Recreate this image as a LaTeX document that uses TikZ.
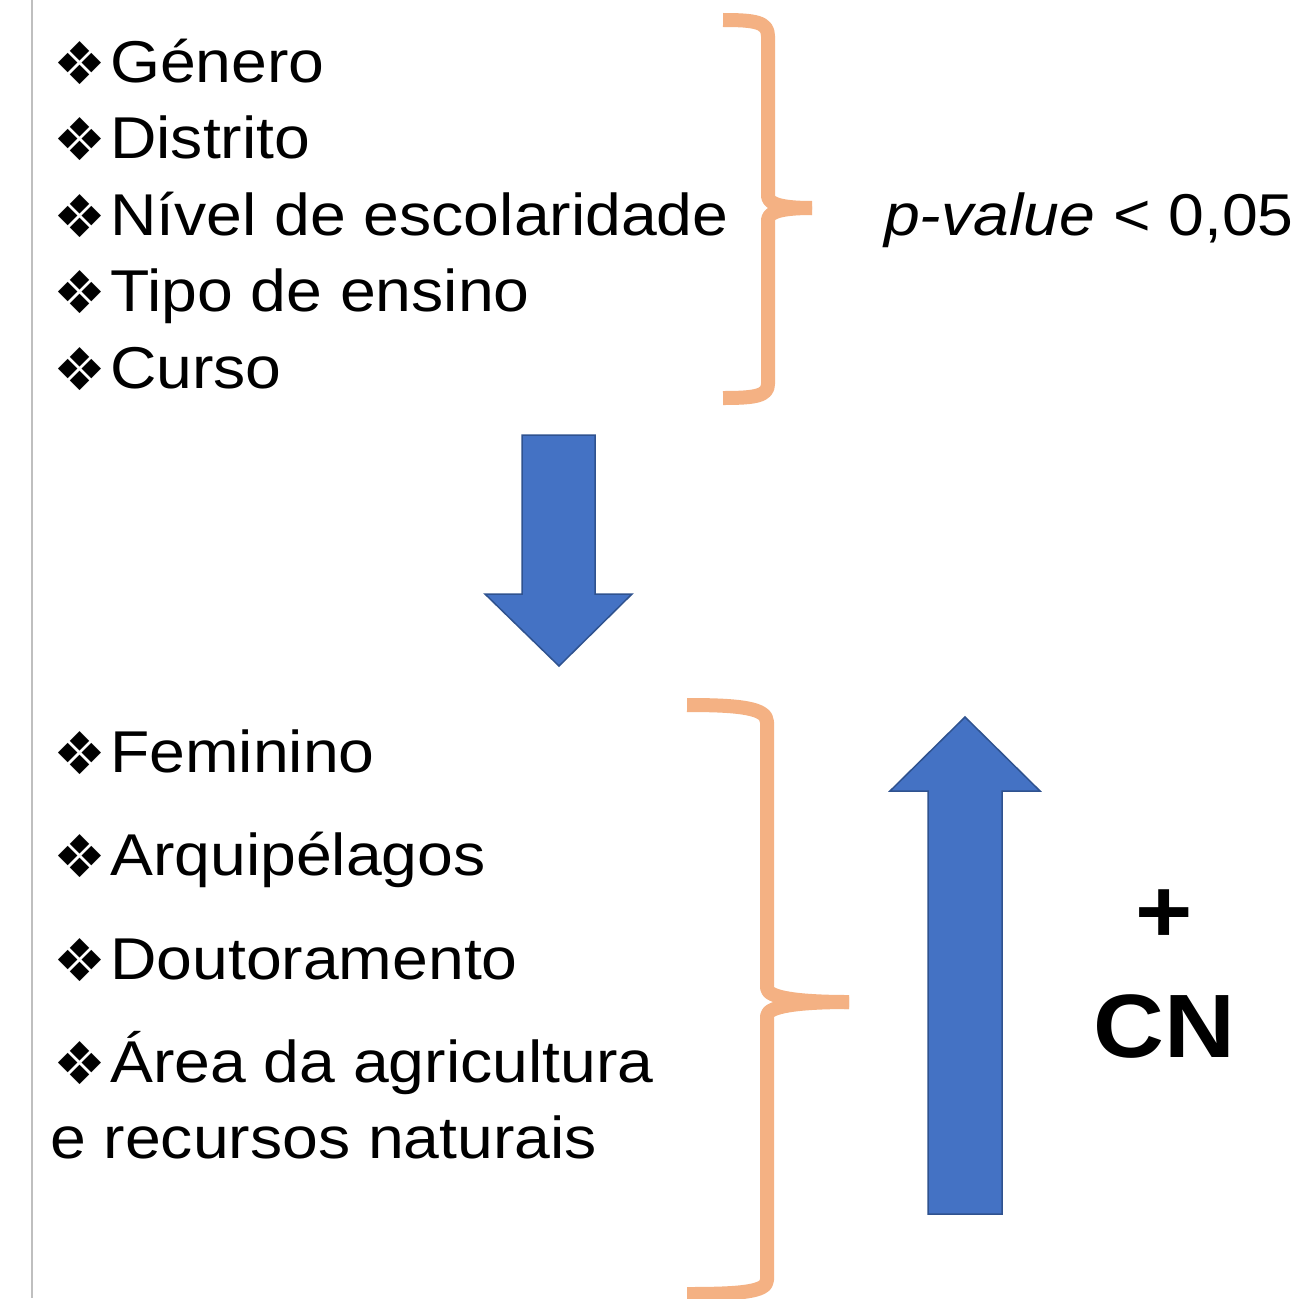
\documentclass[tikz,border=0pt]{standalone}
\usepackage{fontspec}
\setmainfont{Liberation Sans}[FakeStretch=1.09]
\newfontfamily\bulfont{DejaVu Sans}
\definecolor{bracecol}{HTML}{F4B183}
\definecolor{arrowfill}{HTML}{4472C4}
\definecolor{arrowline}{HTML}{2F528F}
\definecolor{rulecol}{HTML}{BFBFBF}
\begin{document}
\begin{tikzpicture}[x=1pt,y=-1pt,
  txt/.style={anchor=base west,inner sep=0pt,font=\fontsize{59}{70}\selectfont},
  bul/.style={anchor=center,inner sep=0pt,font=\bulfont\fontsize{59}{70}\selectfont},
  bracepath/.style={draw=bracecol,line width=14pt,line join=round},
  bigarrow/.style={fill=arrowfill,draw=arrowline,line width=1.5pt},
  boldtxt/.style={inner sep=0pt,font=\bfseries\fontsize{90}{100}\selectfont}]
\useasboundingbox (0,0) rectangle (1300,1298);
\fill[white] (0,0) rectangle (1300,1298);
\draw[rulecol,line width=2pt] (32,0) -- (32,1298);

% top list
\node[bul] (b1) at (80,63) {❖};
\node[txt] (t1) at (110,82) {Género};
\node[bul] (b2) at (80,139) {❖};
\node[txt] (t2) at (110,158) {Distrito};
\node[bul] (b3) at (80,216) {❖};
\node[txt] (t3) at (110,235) {Nível de escolaridade};
\node[bul] (b4) at (80,292) {❖};
\node[txt] (t4) at (110,311) {Tipo de ensino};
\node[bul] (b5) at (80,369) {❖};
\node[txt] (t5) at (110,388) {Curso};

% top brace
\draw[bracepath] (723,20) .. controls (755,20) and (768,22) .. (768,36) -- (768,196)
  .. controls (768,205) and (785,208) .. (812,208);
\draw[bracepath] (812,208) .. controls (785,208) and (768,211) .. (768,220) -- (768,384)
  .. controls (768,396) and (755,398) .. (723,398);

\node[txt] (pv) at (884,235) {\textit{p-value} < 0,05};

% down arrow
\draw[bigarrow] (522,435) -- (595,435) -- (595,594) -- (632,594) -- (559,666) -- (485,594) -- (522,594) -- cycle;

% bottom list
\node[bul] (c1) at (80,753) {❖};
\node[txt] (s1) at (110,772) {Feminino};
\node[bul] (c2) at (80,856) {❖};
\node[txt] (s2) at (110,875) {Arquipélagos};
\node[bul] (c3) at (80,960) {❖};
\node[txt] (s3) at (110,979) {Doutoramento};
\node[bul] (c4) at (80,1063) {❖};
\node[txt] (s4) at (110,1082) {Área da agricultura};
\node[txt] (s5) at (50,1158) {e recursos naturais};

% bottom brace
\draw[bracepath] (687,705) .. controls (740,705) and (767,708) .. (767,722) -- (767,988)
  .. controls (767,998) and (800,1002) .. (849,1002);
\draw[bracepath] (849,1002) .. controls (800,1002) and (767,1006) .. (767,1016) -- (767,1280)
  .. controls (767,1292) and (740,1294) .. (687,1294);

% up arrow
\draw[bigarrow] (965,717) -- (1040,791) -- (1002,791) -- (1002,1214) -- (928,1214) -- (928,791) -- (890,791) -- cycle;

\node[boldtxt] (plus) at (1164,916) {+};
\node[boldtxt,anchor=base] (cn) at (1164,1057) {CN};
\end{tikzpicture}
\end{document}
